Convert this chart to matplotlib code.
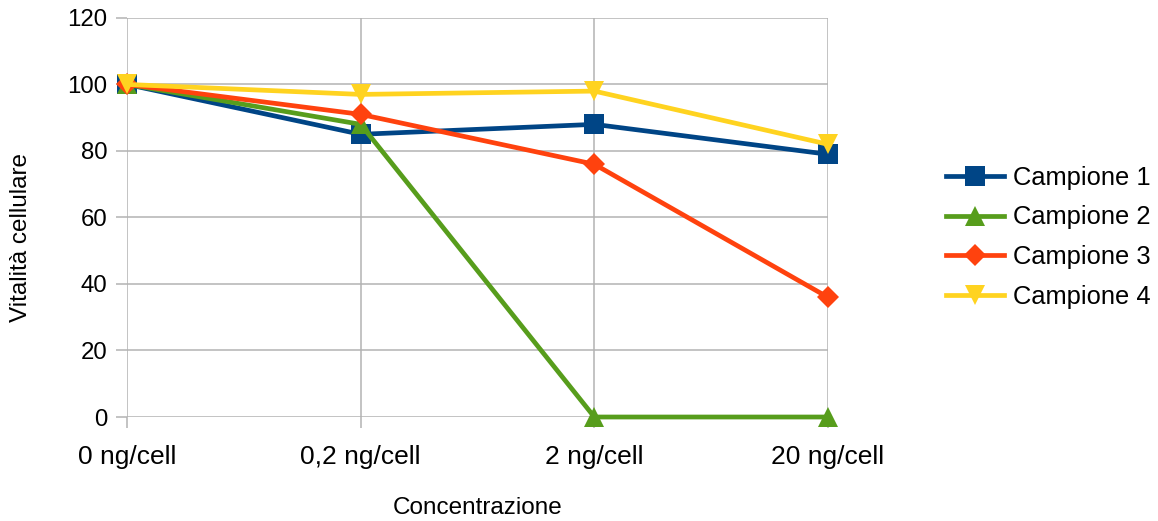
import matplotlib
matplotlib.use("Agg")
import matplotlib.pyplot as plt

plt.rcParams["font.family"] = ["Liberation Sans", "DejaVu Sans"]

concentrazioni = ["0 ng/cell", "0,2 ng/cell", "2 ng/cell", "20 ng/cell"]
campione_1 = [100, 85, 88, 79]
campione_2 = [100, 88, 0, 0]
campione_3 = [100, 91, 76, 36]
campione_4 = [100, 97, 98, 82]

series = [
    ("Campione 1", campione_1, "#004586", "s", 14),
    ("Campione 2", campione_2, "#579d1c", "^", 15),
    ("Campione 3", campione_3, "#ff420e", "D", 11),
    ("Campione 4", campione_4, "#ffd320", "v", 15),
]

fig = plt.figure(figsize=(11.58, 5.21), dpi=100)
ax = fig.add_axes([0.1097, 0.1996, 0.6053, 0.766])

x = list(range(len(concentrazioni)))
for name, vals, color, marker, ms in series:
    ax.plot(x, vals, color=color, lw=3.4, marker=marker, ms=ms,
            markeredgewidth=0, label=name, zorder=3, clip_on=False)

ax.set_xlim(0, len(concentrazioni) - 1)
ax.set_ylim(0, 120)
ax.set_yticks(range(0, 121, 20))
ax.set_xticks(x)
ax.set_xticklabels(concentrazioni)

grid_col = "#b3b3b3"
ax.grid(True, color=grid_col, lw=1.1, zorder=0)
for s in ax.spines.values():
    s.set_visible(False)
ax.tick_params(axis="both", colors=grid_col, length=8, width=1.1,
               labelcolor="black")
ax.tick_params(axis="x", pad=12, labelsize=19)
ax.tick_params(axis="y", pad=6, labelsize=17.3)

ax.set_xlabel("Concentrazione", fontsize=17.5)
ax.set_ylabel("Vitalità cellulare", fontsize=17.5)
ax.xaxis.set_label_coords(0.5, -0.2)
ax.yaxis.set_label_coords(-0.135, 0.451)

ax.legend(loc="center left", bbox_to_anchor=(1.136, 0.45), frameon=False,
          fontsize=18.4, handlelength=2.27, labelspacing=0.62,
          handletextpad=0.35)

fig.savefig("out.png", dpi=100)
